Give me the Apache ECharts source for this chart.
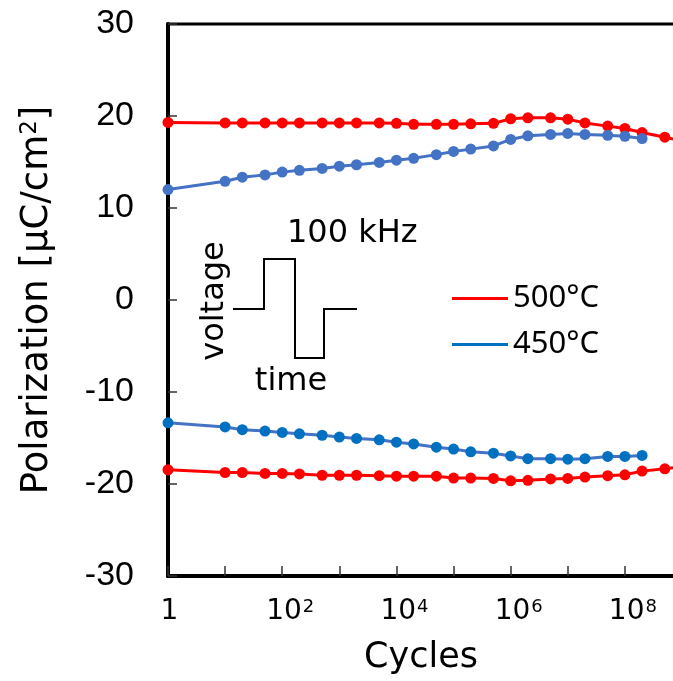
<!DOCTYPE html>
<html>
<head>
<meta charset="utf-8">
<script src="https://cdn.jsdelivr.net/npm/echarts@6/dist/echarts.min.js"></script>
<style>
html,body{margin:0;padding:0;background:#fff;}
#chart{width:673px;height:681px;}
</style>
</head>
<body>
<div id="chart"></div>
<script>
// Cycles (x values)
const cycles = [1, 10, 20, 50, 100, 200, 500, 1e3, 2e3, 5e3, 1e4, 2e4, 5e4, 1e5, 2e5, 5e5,
                1e6, 2e6, 5e6, 1e7, 2e7, 5e7, 1e8, 2e8, 5e8, 1e9];
// 500°C positive / negative polarization
const red500Pos = [19.3, 19.25, 19.25, 19.25, 19.25, 19.25, 19.25, 19.25, 19.25, 19.25, 19.2, 19.1, 19.1, 19.1, 19.15, 19.2,
                   19.7, 19.8, 19.8, 19.65, 19.25, 18.9, 18.65, 18.2, 17.7, 17.3];
const red500Neg = [-18.45, -18.75, -18.75, -18.85, -18.85, -18.9, -19.05, -19.05, -19.05, -19.1, -19.15, -19.15, -19.15, -19.35, -19.35, -19.4,
                   -19.65, -19.6, -19.45, -19.4, -19.25, -19.1, -19.0, -18.6, -18.35, -18.1];
// 450°C positive / negative polarization (up to 2e8 cycles)
const blue450Pos = [12.0, 12.9, 13.35, 13.6, 13.9, 14.1, 14.3, 14.55, 14.7, 14.95, 15.2, 15.4, 15.8, 16.15, 16.4, 16.75,
                    17.45, 17.85, 18.0, 18.1, 18.0, 17.9, 17.8, 17.55];
const blue450Neg = [-13.35, -13.8, -14.1, -14.25, -14.4, -14.55, -14.7, -14.9, -15.05, -15.2, -15.45, -15.65, -16.0, -16.2, -16.5, -16.65,
                    -16.95, -17.25, -17.25, -17.3, -17.25, -17.0, -17.0, -16.9];
const seriesNames = ['500°C', '450°C'];
const yTicks = [-30, -20, -10, 0, 10, 20, 30];

function pairs(vals) { return vals.map((v, i) => [cycles[i], v]); }

const chart = echarts.init(document.getElementById('chart'), null, {renderer: 'canvas'});

function mk(name, data, lineColor, symColor) {
  return {
    name: name, type: 'line', data: pairs(data), clip: false,
    symbol: 'circle', symbolSize: 11, showSymbol: true,
    lineStyle: {color: lineColor, width: 3},
    itemStyle: {color: symColor, borderWidth: 0},
    emphasis: {disabled: true}, z: 3
  };
}

const option = {
  animation: false,
  backgroundColor: '#fff',
  grid: {left: 168, top: 24, height: 552, width: 514, outerBoundsMode: 'none', containLabel: false,
         show: true, borderColor: '#000', borderWidth: 3},
  legend: {
    orient: 'vertical', left: 447, top: 278,
    icon: 'rect', itemWidth: 56, itemHeight: 3, itemGap: 15, itemTextGap: 6,
    textStyle: {fontFamily: 'Noto Sans', fontSize: 31, color: '#000', lineHeight: 31},
    data: [
      {name: seriesNames[0], itemStyle: {color: '#FF0000'}},
      {name: seriesNames[1], itemStyle: {color: '#0070C0'}}
    ]
  },
  xAxis: {
    type: 'log', logBase: 10, min: 1, max: 1e9, interval: 1,
    name: 'Cycles', nameLocation: 'middle', nameGap: 64,
    nameTextStyle: {fontFamily: 'DejaVu Sans', fontSize: 35, color: '#000', padding: [0, 8, 0, 0]},
    axisLine: {show: true, onZero: false, lineStyle: {color: '#000', width: 4}},
    axisTick: {show: true, inside: true, length: 10, lineStyle: {color: '#333', width: 1.5}},
    splitLine: {show: false},
    axisLabel: {
      margin: 22, color: '#000', hideOverlap: false,
      formatter: function (v) {
        const e = Math.round(Math.log10(v));
        if (e % 2 !== 0) return '';
        if (e === 0) return '{b|1}';
        return '{p|10}{s|' + e + '}';
      },
      rich: {
        b: {fontFamily: 'DejaVu Sans', fontSize: 28, color: '#000', padding: [0, 0, 0, 3]},
        p: {fontFamily: 'DejaVu Sans', fontSize: 28, color: '#000', padding: [0, 0, 0, 16]},
        s: {fontFamily: 'DejaVu Sans', fontSize: 18, color: '#000', verticalAlign: 'top', padding: [0, 0, 0, 1]}
      }
    }
  },
  yAxis: {
    type: 'value', min: yTicks[0], max: yTicks[yTicks.length - 1], interval: 10,
    name: 'Polarization [µC/cm{s|2}]', nameLocation: 'middle', nameGap: 112, nameRotate: 90,
    nameTextStyle: {
      fontFamily: 'DejaVu Sans', fontSize: 37, color: '#000',
      rich: {s: {fontFamily: 'DejaVu Sans', fontSize: 23, color: '#000', verticalAlign: 'top'}}
    },
    axisLine: {show: true, lineStyle: {color: '#000', width: 4}},
    axisTick: {show: true, inside: true, length: 9, lineStyle: {color: '#333', width: 1.5}},
    splitLine: {show: false},
    axisLabel: {margin: 34, fontFamily: 'Liberation Sans', fontSize: 34, color: '#000'}
  },
  series: [
    mk(seriesNames[0], red500Pos, '#FF0000', '#FF0000'),
    mk(seriesNames[0], red500Neg, '#FF0000', '#FF0000'),
    mk(seriesNames[1], blue450Pos, '#4472C4', '#4472C4'),
    mk(seriesNames[1], blue450Neg, '#4472C4', '#0070C0')
  ],
  graphic: [
    {type: 'polyline', z: 10, silent: true,
     shape: {points: [[233, 309], [264, 309], [264, 259], [295, 259], [295, 358], [324, 358], [324, 309], [357, 309]]},
     style: {stroke: '#000', lineWidth: 2, fill: null}},
    {type: 'text', z: 10, x: 287, y: 234, silent: true,
     style: {text: '100 kHz', fontFamily: 'DejaVu Sans', fontSize: 32, fill: '#000', verticalAlign: 'middle', align: 'left'}},
    {type: 'text', z: 10, x: 215, y: 301, rotation: Math.PI / 2, silent: true,
     style: {text: 'voltage', fontFamily: 'DejaVu Sans', fontSize: 32, fill: '#000', verticalAlign: 'middle', align: 'center'}},
    {type: 'text', z: 10, x: 291, y: 382, silent: true,
     style: {text: 'time', fontFamily: 'DejaVu Sans', fontSize: 32, fill: '#000', verticalAlign: 'middle', align: 'center'}}
  ]
};
chart.setOption(option);
</script>
</body>
</html>
